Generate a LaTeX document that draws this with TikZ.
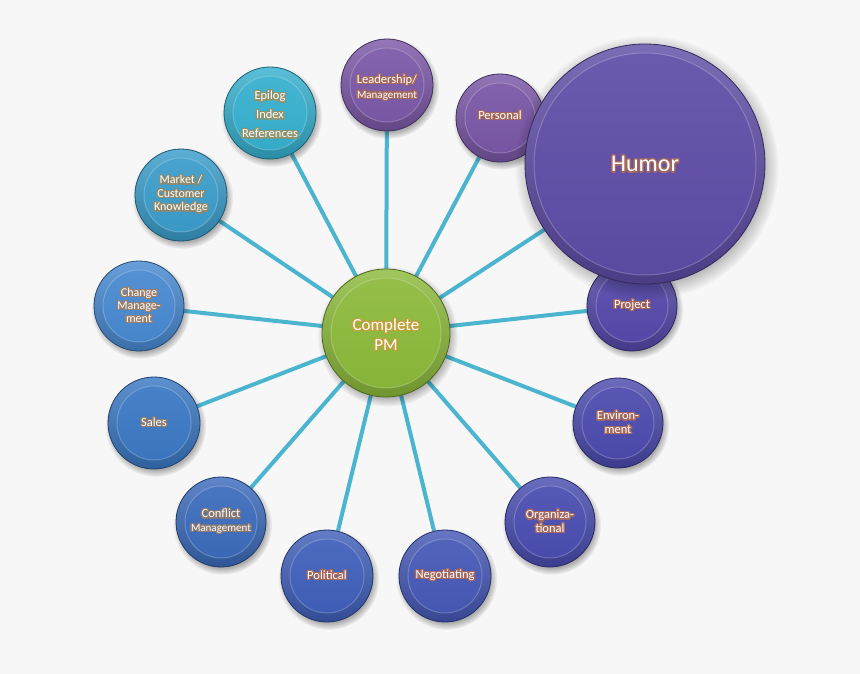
\documentclass[tikz,border=0pt]{standalone}
\usepackage{fontspec}
\setmainfont{Carlito}
\usepackage{contour}
\contourlength{1.3pt}
\contournumber{24}
\usetikzlibrary{shadows}
\definecolor{bgc}{HTML}{F7F7F7}
\definecolor{linec}{HTML}{4BB5CF}
\definecolor{cg}{HTML}{8CBA3A}
\definecolor{cl}{HTML}{7B58A8}
\definecolor{cp}{HTML}{7956A6}
\definecolor{ce}{HTML}{35B0CF}
\definecolor{cm}{HTML}{3A9DCB}
\definecolor{cc}{HTML}{4789D1}
\definecolor{cs}{HTML}{3A78C4}
\definecolor{cf}{HTML}{3B6BBC}
\definecolor{cpo}{HTML}{3F5FBA}
\definecolor{cn}{HTML}{4558B6}
\definecolor{co}{HTML}{494CB0}
\definecolor{cv}{HTML}{4B4AAE}
\definecolor{cj}{HTML}{5448AA}
\definecolor{ch}{HTML}{5E4CA6}
\definecolor{gg}{HTML}{C2A23A}
\definecolor{gp}{HTML}{A5695F}
\definecolor{go}{HTML}{8F9470}
\definecolor{gm}{HTML}{8E8A70}
\definecolor{gc}{HTML}{9A7F6E}
\definecolor{gs}{HTML}{8A7A70}
\newcommand\gl[2]{\contour{#1}{#2}}
\pgfdeclarelayer{back}
\pgfdeclarelayer{lines}
\pgfsetlayers{back,lines,main}
\tikzset{
  bub/.style n args={3}{circle, inner sep=0pt, minimum size=#2*2pt,
    top color=#1!82!white, bottom color=#1!80!black,
    draw=#1!55!black, line width=.8pt,
    circular drop shadow={shadow xshift=1.5pt, shadow yshift=-3pt, opacity=.3, fill=black},
    text=white, align=center, font=#3,
    path picture={
      \shade[top color=#1!92!white, bottom color=#1!96!black]
        (path picture bounding box.center) circle ({#2pt-9pt});
      \draw[white, opacity=.22, line width=1pt]
        (path picture bounding box.center) circle ({#2pt-9pt});
    }},
  conn/.style={draw=linec, line width=4pt},
}
\newcommand\fs[2]{\fontsize{#1}{#2}\selectfont}
\begin{document}
\begin{tikzpicture}[x=1pt, y=-1pt]
\begin{pgfonlayer}{back}
  \fill[bgc] (0,0) rectangle (860,674);
\end{pgfonlayer}
\useasboundingbox (0,0) rectangle (860,674);

\node[bub={cg}{64}{\fs{17}{20}}] (c) at (386,333) {\rule{0pt}{16pt}\gl{gg}{Complete}\\\gl{gg}{PM}};
\node[bub={cl}{46}{\fs{12.5}{14.5}}] (lead) at (387,85) {\rule{0pt}{15pt}\gl{gp}{Leadership/}\\{\fs{11}{13}\gl{gp}{Management}}};
\node[bub={cp}{44}{\fs{12.5}{15}}] (pers) at (500,118) {\gl{gp}{Personal}\rule[-6pt]{0pt}{6pt}};
\node[bub={ce}{46}{\fs{12.5}{19}}] (epi) at (270,113) {\rule{0pt}{13pt}\gl{go}{Epilog}\\\gl{go}{Index}\\\gl{go}{References}};
\node[bub={cm}{46}{\fs{12}{13.5}}] (mkt) at (181,195) {\gl{gm}{Market /}\\\gl{gm}{Customer}\\\gl{gm}{Knowledge}};
\node[bub={cc}{45}{\fs{12}{13}}] (chg) at (139,306) {\gl{gc}{Change}\\\gl{gc}{Manage-}\\\gl{gc}{ment}};
\node[bub={cs}{46}{\fs{12.5}{15}}] (sales) at (154,423) {\gl{gs}{Sales}};
\node[bub={cf}{45}{\fs{12.5}{13.5}}] (conf) at (221,522) {\gl{gs}{Conflict}\\{\fs{11}{13}\gl{gs}{Management}}};
\node[bub={cpo}{46}{\fs{12.5}{15}}] (pol) at (327,576) {\gl{gp}{Political}};
\node[bub={cn}{46}{\fs{12.5}{15}}] (neg) at (445,576) {\gl{gp}{Negotiating}};
\node[bub={co}{45}{\fs{12.5}{13.5}}] (org) at (550,522) {\gl{gp}{Organiza-}\\\gl{gp}{tional}};
\node[bub={cv}{45}{\fs{12.5}{13.5}}] (env) at (618,423) {\gl{gp}{Environ-}\\\gl{gp}{ment}};
\node[bub={cj}{45}{\fs{12.5}{15}}] (proj) at (632,306) {\gl{gp}{Project}};
\node[bub={ch}{120}{\fs{24}{28}}] (hum) at (645,164) {\rule{0pt}{17pt}\gl{gp}{Humor}};

\begin{pgfonlayer}{lines}
  \foreach \n in {lead,pers,epi,mkt,chg,sales,conf,pol,neg,org,env,proj,hum}
    \draw[conn] (c) -- (\n);
\end{pgfonlayer}
\end{tikzpicture}
\end{document}
